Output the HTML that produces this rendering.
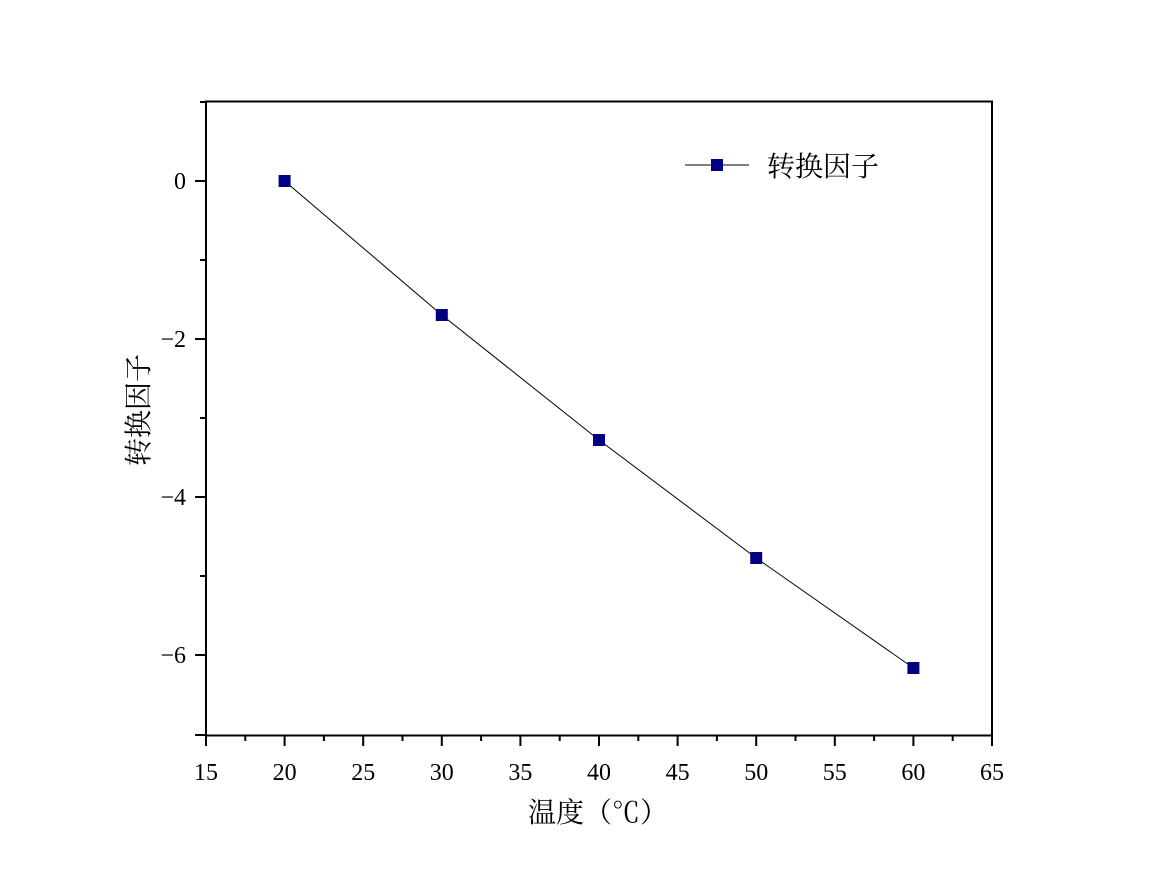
<!DOCTYPE html><html><head><meta charset="utf-8"><style>body{margin:0;background:#fff}</style></head><body>
<svg width="1153" height="882" xmlns="http://www.w3.org/2000/svg" font-family="Liberation Serif, Noto Serif CJK SC, serif">
<rect width="1153" height="882" fill="#fff"/>
<rect x="206" y="101.5" width="786" height="634" fill="none" stroke="#000" stroke-width="2"/>
<g stroke="#000" stroke-width="2">
<line x1="206" y1="735" x2="206" y2="746"/><line x1="284.6" y1="735" x2="284.6" y2="746"/><line x1="363.2" y1="735" x2="363.2" y2="746"/><line x1="441.8" y1="735" x2="441.8" y2="746"/><line x1="520.4" y1="735" x2="520.4" y2="746"/><line x1="599" y1="735" x2="599" y2="746"/><line x1="677.6" y1="735" x2="677.6" y2="746"/><line x1="756.2" y1="735" x2="756.2" y2="746"/><line x1="834.8" y1="735" x2="834.8" y2="746"/><line x1="913.4" y1="735" x2="913.4" y2="746"/><line x1="992" y1="735" x2="992" y2="746"/>
<line x1="245.3" y1="735" x2="245.3" y2="741"/><line x1="323.9" y1="735" x2="323.9" y2="741"/><line x1="402.5" y1="735" x2="402.5" y2="741"/><line x1="481.1" y1="735" x2="481.1" y2="741"/><line x1="559.7" y1="735" x2="559.7" y2="741"/><line x1="638.3" y1="735" x2="638.3" y2="741"/><line x1="716.9" y1="735" x2="716.9" y2="741"/><line x1="795.5" y1="735" x2="795.5" y2="741"/><line x1="874.1" y1="735" x2="874.1" y2="741"/><line x1="952.7" y1="735" x2="952.7" y2="741"/>
<line x1="195" y1="181" x2="206" y2="181"/><line x1="195" y1="339" x2="206" y2="339"/><line x1="195" y1="497" x2="206" y2="497"/><line x1="195" y1="655" x2="206" y2="655"/><line x1="195" y1="735" x2="206" y2="735"/>
<line x1="200" y1="102" x2="206" y2="102"/><line x1="200" y1="260" x2="206" y2="260"/><line x1="200" y1="418" x2="206" y2="418"/><line x1="200" y1="576" x2="206" y2="576"/>
</g>
<g font-size="24" text-anchor="middle" fill="#000">
<text x="206" y="780">15</text><text x="284.6" y="780">20</text><text x="363.2" y="780">25</text><text x="441.8" y="780">30</text><text x="520.4" y="780">35</text><text x="599" y="780">40</text><text x="677.6" y="780">45</text><text x="756.2" y="780">50</text><text x="834.8" y="780">55</text><text x="913.4" y="780">60</text><text x="992" y="780">65</text>
</g>
<g font-size="24" text-anchor="end" fill="#000">
<text x="186" y="189">0</text><text x="186" y="347">−2</text><text x="186" y="505">−4</text><text x="186" y="663">−6</text>
</g>
<text x="598" y="822" font-size="28" text-anchor="middle">温度（℃）</text>
<text transform="translate(148,410) rotate(-90)" font-size="28" text-anchor="middle">转换因子</text>
<polyline points="284.6,181 441.8,315 599,440 756.2,558 913.4,668" fill="none" stroke="#000" stroke-width="1"/>
<g fill="#000080"><rect x="278.6" y="175" width="12" height="12"/><rect x="435.8" y="309" width="12" height="12"/><rect x="593" y="434" width="12" height="12"/><rect x="750.2" y="552" width="12" height="12"/><rect x="907.4" y="662" width="12" height="12"/></g>
<line x1="685" y1="165" x2="749" y2="165" stroke="#000" stroke-width="1"/>
<rect x="711" y="159" width="12" height="12" fill="#000080"/>
<text x="767" y="176" font-size="28">转换因子</text>
</svg>
</body></html>
